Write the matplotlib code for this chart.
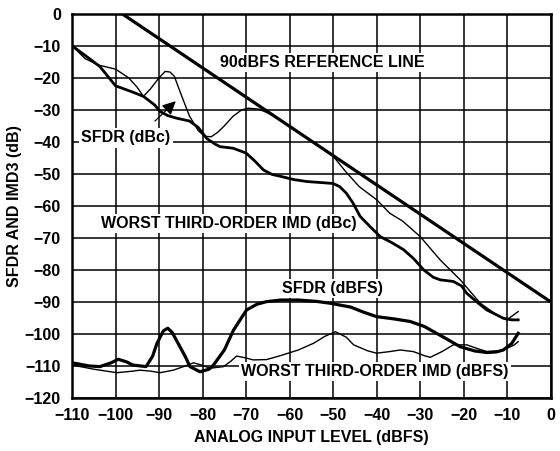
import numpy as np
import matplotlib
matplotlib.use("Agg")
import matplotlib.pyplot as plt

plt.rcParams['font.family'] = ['Liberation Sans', 'DejaVu Sans']
plt.rcParams['font.weight'] = 'bold'

## 90 dBFS reference line
ref_x = [-98.5, 0]
ref_y = [0, -90]

## SFDR (dBc), thin
sfdr_dbc_x = [-110, -107, -104, -100, -97, -95, -93.6, -92, -90, -88.6, -87.5, -86.5, -85, -83, -81,
              -79.5, -78, -76.5, -75, -73, -71, -69.5, -67, -65, -62, -59, -56, -53, -50, -47, -44,
              -40, -37, -34, -30, -25.4, -20.8, -16.2, -12.4, -10.1, -7.5]
sfdr_dbc_y = [-10, -14, -16, -17.3, -20, -23, -25.8, -23.5, -20, -18, -18.2, -19.5, -25, -32, -36.5,
              -38.3, -38.4, -37, -35, -32, -30, -29.5, -29.8, -31, -33.2, -36, -38.8, -41.5, -44.5, -49.5, -54,
              -58.1, -62.3, -64.8, -69.6, -76.9, -83.1, -90.4, -94.1, -95.6, -93]

## Worst third-order IMD (dBc), thick
imd_dbc_x = [-110, -106, -103.6, -100, -96, -93.6, -91, -89.8, -88, -86, -83, -81, -79, -77, -76, -73,
             -70, -68, -66, -64, -62, -59, -56, -52, -50, -48.5, -47, -45.5, -43.8, -41.5, -39.2, -36.5,
             -33.8, -31.5, -29.2, -27, -25.4, -22.4, -20.5, -19.3, -17, -14.7, -12.5, -10.9, -9, -7.5]
imd_dbc_y = [-10, -14, -16.5, -22.5, -24.5, -25.8, -28.5, -30.5, -31.8, -32.6, -33.5, -35.5, -39, -40.8, -41.5, -42,
             -43.5, -46, -48.8, -50.2, -50.8, -51.8, -52.4, -52.8, -53, -54, -56, -59, -63.3, -66.5, -69.6, -71.5,
             -73.7, -76.5, -80, -82.3, -83.1, -83.6, -85, -87.3, -90, -92.5, -94, -95.1, -95.6, -95.6]

## SFDR (dBFS), thick
sfdr_dbfs_x = [-110, -106, -103.6, -101, -99.4, -97.5, -96, -93, -91.5, -90.5, -89, -88, -87, -86, -84,
               -82.9, -80.6, -78.5, -77.5, -75, -72.9, -71, -69.9, -67.5, -65.3, -62, -58, -54, -50.7, -46,
               -43, -40, -36, -32.3, -29, -26.9, -24, -20.8, -17.5, -14.7, -12.5, -10.9, -9, -7.5]
sfdr_dbfs_y = [-109, -110, -110.2, -109, -107.9, -108.7, -109.7, -110.2, -107, -103, -99, -98.2, -99.5, -102, -107,
               -110.2, -111.8, -111, -109.7, -105, -98.8, -94.8, -92.5, -90.7, -89.9, -89.4, -89.4, -89.8, -90.4, -91.6,
               -93.2, -94.6, -95.3, -96.1, -97.7, -99.3, -101.5, -104, -105.3, -105.8, -105.6, -105, -103, -99.8]

## Worst third-order IMD (dBFS), thin
imd_dbfs_x = [-110, -105, -99.7, -96, -94.4, -92, -89.8, -86.7, -84, -82.1, -80, -78.3, -75.2, -73.5, -72.2,
              -70, -68.4, -65.3, -62.2, -58, -54.5, -52, -49.5, -47, -45.3, -42, -40, -37, -34.6, -31.6, -29,
              -27.7, -25, -22.4, -19.3, -17, -14.7, -12, -10.1, -8.5, -7.5]
imd_dbfs_y = [-109.7, -111, -112.1, -111.6, -111.3, -111.6, -112.1, -111.3, -110, -109, -109.8, -110.7, -110.2, -108.5, -106.9,
              -107.5, -108.1, -108, -106.8, -105, -102.9, -100.8, -99.3, -101, -103.4, -105.3, -106, -105.5, -105, -105.5, -106.8,
              -107.3, -105.5, -103.4, -103.4, -104.5, -105.5, -105.3, -104.5, -103.5, -102.4]

x_ticks = list(range(-110, 1, 10))
y_ticks = list(range(-120, 1, 10))


def main():
    fig = plt.figure(figsize=(5.6, 4.51), dpi=100)
    ax = fig.add_axes([0.1286, 0.1175, 0.855, 0.852])

    ax.plot(ref_x, ref_y, color='black', lw=2.3, zorder=4, solid_capstyle='butt')
    ax.plot(sfdr_dbc_x, sfdr_dbc_y, color='black', lw=1.0, zorder=4)
    ax.plot(imd_dbc_x, imd_dbc_y, color='black', lw=2.0, zorder=4)
    ax.plot(sfdr_dbfs_x, sfdr_dbfs_y, color='black', lw=2.3, zorder=4)
    ax.plot(imd_dbfs_x, imd_dbfs_y, color='black', lw=1.0, zorder=4)

    ax.set_xlim(-110, 0)
    ax.set_ylim(-120, 0)
    ax.set_xticks(x_ticks)
    ax.set_yticks(y_ticks)
    ax.set_xticklabels(['\u2212' + str(-t) if t else '0' for t in x_ticks])
    ax.set_yticklabels(['\u2212' + str(-t) if t else '0' for t in y_ticks])
    ax.tick_params(length=0, labelsize=11.5)
    ax.tick_params(axis='x', pad=7)
    ax.tick_params(axis='y', pad=8)
    for lab in ax.get_xticklabels() + ax.get_yticklabels():
        lab.set_fontweight('bold')
    ax.grid(True, color='black', lw=1.1)
    ax.set_axisbelow(True)
    for s in ax.spines.values():
        s.set_linewidth(1.8)
        s.set_zorder(5)

    ax.set_xlabel('ANALOG INPUT LEVEL (dBFS)', fontsize=11.5, fontweight='bold', labelpad=5)
    ax.set_ylabel('SFDR AND IMD3 (dB)', fontsize=11.5, fontweight='bold')
    ax.yaxis.set_label_coords(-0.104, 0.5)

    box = dict(facecolor='white', edgecolor='none', pad=1.5)
    kw = dict(fontsize=11.5, fontweight='bold', ha='center', va='center', zorder=3, bbox=box)
    ax.text(-52.6, -15.3, '90dBFS REFERENCE LINE', **kw)
    ax.text(-97.6, -38.8, 'SFDR (dBc)', **kw)
    ax.text(-73.9, -65.6, 'WORST THIRD-ORDER IMD (dBc)', **kw)
    ax.text(-50.1, -85.7, 'SFDR (dBFS)', **kw)
    ax.text(-40.4, -111.8, 'WORST THIRD-ORDER IMD (dBFS)', **kw)

    ax.annotate('', xy=(-85.7, -26.7), xytext=(-91.4, -34.1),
                arrowprops=dict(arrowstyle='-|>', color='black', lw=0.9, mutation_scale=20),
                zorder=4)

    fig.savefig('out.png', dpi=100)
    plt.close(fig)


if __name__ == "__main__":
    main()
